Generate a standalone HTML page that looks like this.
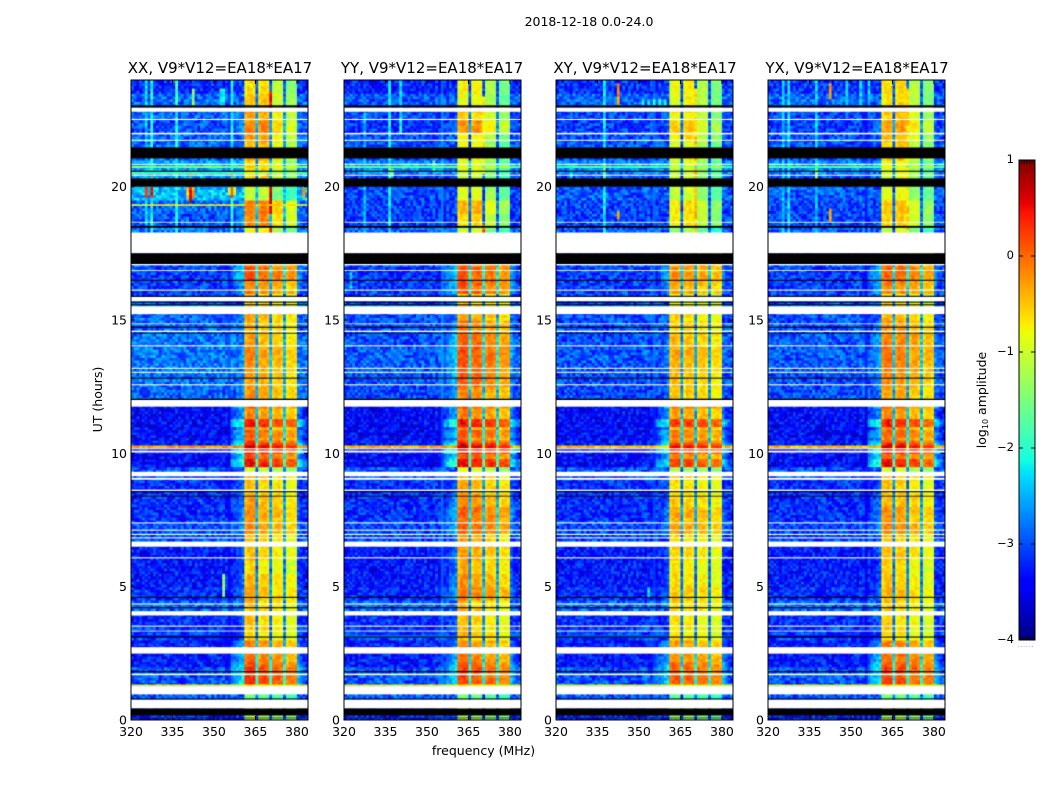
<!DOCTYPE html>
<html lang="en">
<head>
<meta charset="utf-8">
<title>2018-12-18 0.0-24.0 dynamic spectra</title>
<style>
html,body{margin:0;padding:0;background:#fff;}
#figure{position:relative;width:1050px;height:800px;overflow:hidden;background:#fff;font-family:"DejaVu Sans","Liberation Sans",sans-serif;}
canvas{position:absolute;display:block;}
svg{position:absolute;left:0;top:0;}
text{font-family:"DejaVu Sans","Liberation Sans",sans-serif;fill:#000;}
</style>
</head>
<body>
<div id="figure">
<canvas id="heat0" width="177" height="640" style="left:131px;top:80px"></canvas>
<canvas id="heat1" width="177" height="640" style="left:344px;top:80px"></canvas>
<canvas id="heat2" width="177" height="640" style="left:556px;top:80px"></canvas>
<canvas id="heat3" width="177" height="640" style="left:768px;top:80px"></canvas>
<canvas id="cbar" width="16" height="480" style="left:1019px;top:160px"></canvas>
<svg id="overlay" width="1050" height="800" viewBox="0 0 1050 800">
  <text x="589" y="26" font-size="12.5" text-anchor="middle">2018-12-18 0.0-24.0</text>
  <text x="220" y="73" font-size="15" text-anchor="middle">XX, V9*V12=EA18*EA17</text>
  <text x="432" y="73" font-size="15" text-anchor="middle">YY, V9*V12=EA18*EA17</text>
  <text x="645" y="73" font-size="15" text-anchor="middle">XY, V9*V12=EA18*EA17</text>
  <text x="857" y="73" font-size="15" text-anchor="middle">YX, V9*V12=EA18*EA17</text>
  <text x="483.5" y="755" font-size="12.5" text-anchor="middle">frequency (MHz)</text>
  <text transform="translate(102,399.5) rotate(-90)" font-size="12.5" text-anchor="middle">UT (hours)</text>
  <text transform="translate(986,400) rotate(-90)" font-size="12.5" text-anchor="middle">log<tspan font-size="8" dy="2">10</tspan><tspan dy="-2"> amplitude</tspan></text>
  <text x="1026" y="647" font-size="6" text-anchor="middle" letter-spacing="1" style="fill:#666">......</text>
</svg>
</div>
<script>
// ---------- axis tick labels ----------
const freqTicks = [320, 335, 350, 365, 380];
const hourTicks = [0, 5, 10, 15, 20];
const colorTicks = [1, 0, -1, -2, -3, -4];

// ---------- in-band level (log10 amplitude) per half-hour bin, 0 to 24 UT ----------
const bandLevelXX = [-1.2,-1.6,0.2,0.2,0.0,-0.2,-0.65,-0.6,-0.55,-0.4,-0.5,-0.7,-0.55,-0.4,-0.25,-0.3,-0.4,-0.55,-0.5,0.3,0.35,0.0,0.1,-0.05,-0.3,-0.35,-0.3,-0.25,-0.4,-0.45,-0.4,-0.7,-0.15,0.05,-0.1,-0.1,-0.5,-0.25,-0.2,-1.2,-0.7,-0.7,-0.4,-0.4,-0.25,-0.25,-0.6,-0.75];
const bandLevelYY = [-1.3,-1.6,0.1,0.1,-0.05,-0.3,-0.6,-0.6,-0.55,-0.2,-0.35,-0.5,-0.4,-0.3,-0.05,-0.05,-0.3,-0.45,-0.45,0.3,0.35,0.0,0.1,0.0,-0.25,-0.05,0.0,0.05,-0.05,-0.2,-0.4,-0.7,0.05,0.0,-0.1,-0.1,-0.8,-0.8,-0.55,-1.0,-1.2,-1.1,-0.9,-0.9,-0.4,-0.5,-1.0,-0.9];
const bandLevelXY = [-1.4,-1.7,0.05,0.05,-0.1,-0.3,-0.7,-0.7,-0.6,-0.5,-0.65,-0.7,-0.6,-0.5,-0.3,-0.35,-0.55,-0.65,-0.6,0.1,0.2,-0.1,0.0,-0.1,-0.5,-0.5,-0.4,-0.35,-0.45,-0.55,-0.6,-0.9,-0.3,-0.2,-0.3,-0.3,-1.0,-0.8,-0.75,-1.1,-1.1,-1.1,-0.8,-0.8,-0.6,-0.65,-0.9,-0.85];
const bandLevelYX = [-1.3,-1.6,0.15,0.15,0.0,-0.2,-0.7,-0.65,-0.6,-0.5,-0.6,-0.65,-0.55,-0.45,-0.25,-0.3,-0.5,-0.6,-0.5,0.25,0.3,-0.05,0.05,-0.05,-0.4,-0.3,-0.2,-0.15,-0.2,-0.35,-0.5,-0.8,-0.15,-0.05,-0.2,-0.2,-0.8,-0.7,-0.65,-1.0,-1.0,-1.0,-0.6,-0.6,-0.4,-0.45,-0.8,-0.75];

// ---------- out-of-band background level per half-hour bin ----------
const offLevelXX = [-3.2,-2.95,-3.0,-3.0,-3.3,-3.3,-3.1,-3.2,-2.9,-3.2,-3.3,-3.3,-3.3,-3.0,-3.0,-3.2,-3.2,-3.2,-3.0,-3.4,-3.3,-3.4,-3.4,-3.4,-2.9,-2.85,-2.8,-2.8,-2.8,-2.9,-2.9,-3.0,-3.1,-3.1,-3.0,-3.0,-2.8,-3.0,-2.9,-2.45,-2.6,-2.6,-2.9,-2.9,-3.0,-2.9,-2.9,-3.2];
const offLevelYY = [-3.2,-2.95,-3.0,-3.0,-3.3,-3.3,-3.1,-3.2,-2.9,-3.2,-3.3,-3.3,-3.3,-3.05,-3.05,-3.2,-3.2,-3.2,-3.0,-3.4,-3.3,-3.4,-3.4,-3.4,-3.05,-3.0,-2.95,-2.95,-3.0,-3.0,-3.0,-3.05,-3.1,-3.15,-3.0,-3.0,-2.9,-3.1,-3.1,-3.05,-3.1,-2.7,-3.0,-3.0,-3.15,-3.05,-2.95,-3.25];
const offLevelXY = [-3.2,-2.95,-3.0,-3.0,-3.3,-3.3,-3.1,-3.2,-2.9,-3.2,-3.3,-3.3,-3.3,-3.05,-3.05,-3.2,-3.2,-3.2,-3.0,-3.4,-3.3,-3.4,-3.4,-3.4,-3.05,-3.0,-3.0,-2.95,-3.0,-3.0,-3.0,-3.05,-3.1,-3.1,-3.0,-3.0,-2.95,-3.05,-3.05,-2.95,-3.0,-2.75,-3.0,-3.0,-3.1,-3.05,-2.9,-3.15];
const offLevelYX = [-3.2,-2.95,-3.0,-3.0,-3.3,-3.3,-3.1,-3.2,-2.9,-3.2,-3.3,-3.3,-3.3,-3.05,-3.05,-3.2,-3.2,-3.2,-3.0,-3.4,-3.3,-3.4,-3.4,-3.4,-3.0,-3.0,-2.95,-2.95,-2.95,-3.0,-3.0,-3.05,-3.1,-3.1,-3.0,-3.0,-2.95,-3.05,-3.05,-2.95,-3.0,-2.75,-3.0,-3.0,-3.1,-3.05,-2.9,-3.15];

// ---------- relative level of each 1 MHz channel versus in-band level ----------
const channelShape = [-9,-9,-9,-9,-9,-9,-9,-9,-9,-9,-9,-9,-9,-9,-9,-9,-9,-9,-9,-9,-9,-9,-9,-9,-9,-9,-9,-9,-9,-9,-9,-9,-9,-9,-9,-9,
  -2.9,-2.75,-2.6,-2.48,-2.35,-0.08,0.04,0.06,-0.02,-2.2,-0.06,0.05,0.07,-0.03,-2.2,-0.06,0.04,0.06,-0.04,-2.2,-0.06,0.04,0.06,-0.03,-2.55,-2.8,-3.1,-3.3];

// ---------- gain of the four receiver sub-bands, per product ----------
const subbandGainXX = [0.08, -0.08, -0.18, -0.32];
const subbandGainYY = [0.12, -0.02, -0.12, -0.28];
const subbandGainXY = [0.0, -0.06, -0.14, -0.26];
const subbandGainYX = [0.08, 0.0, -0.15, -0.3];
// extra sub-band tilt seen after 18 UT
const lateSubbandTilt = [0.0, 0.15, -0.2, -0.4];

// ---------- common time structure: start UT, end UT, change in in-band level ----------
const bandSwells = [[11.55,11.75,-0.25],[11.35,11.55,-0.35],[11.05,11.35,0.25],[10.9,11.05,-0.3],[10.45,10.65,-0.2],[10.3,10.45,0.05],[9.85,10.03,-0.3],[9.5,9.85,0.1],[9.31,9.5,-0.6],[2.25,2.49,-0.1],[2.05,2.15,0.1],[6.69,7.0,-0.15],[7.41,7.6,-0.1],[16.14,16.3,-0.15],[18.28,18.46,-0.4],[22.54,22.8,-0.2],[21.47,21.72,-0.15]];

// ---------- flagged time ranges (start UT, end UT) ----------
const whiteHours = [[22.81,22.97],[22.50,22.54],[21.96,22.02],[21.72,21.76],[20.82,20.86],[20.41,20.45],[18.65,18.68],[17.50,18.28],[17.05,17.10],[16.84,16.87],[16.10,16.14],[15.70,15.87],[15.22,15.51],[14.84,14.87],[14.55,14.60],[14.01,14.05],[13.17,13.21],[13.02,13.06],[12.55,12.59],[11.75,12.00],[10.15,10.19],[10.03,10.10],[9.14,9.31],[9.01,9.08],[8.59,8.64],[7.37,7.41],[7.10,7.14],[6.94,6.98],[6.81,6.85],[6.50,6.69],[6.06,6.10],[4.33,4.37],[3.92,4.08],[3.50,3.54],[3.32,3.35],[2.49,2.73],[1.68,1.74],[0.96,1.27],[0.43,0.77]];
const blackHours = [[22.97,23.05],[21.06,21.47],[20.56,20.60],[20.00,20.31],[18.46,18.53],[17.10,17.50],[16.47,16.51],[15.87,15.91],[15.65,15.69],[15.55,15.59],[14.71,14.75],[14.49,14.52],[12.80,12.84],[12.00,12.05],[8.54,8.58],[8.38,8.41],[4.58,4.62],[4.19,4.23],[3.09,3.13],[1.79,1.83],[0.77,0.81],[0.17,0.43],[0.06,0.09]];

// ---------- narrow time strips: start UT, end UT, off-band level, in-band level ----------
const stripsXX = [[10.19,10.29,-0.3,0.65],[1.27,1.33,-0.8,-0.8],[15.50,15.54,-2.0,-0.3],[20.7,20.78,-1.6,-0.6],[20.46,20.56,-1.9,-1.0],[19.28,19.34,-0.8,-0.3]];
const stripsYY = [[10.19,10.29,-0.4,0.65],[1.27,1.33,-0.8,-0.8],[15.50,15.54,-2.2,-0.3],[20.7,20.78,-1.8,-0.9]];
const stripsXY = [[10.19,10.29,-0.5,0.55],[1.27,1.33,-0.9,-0.9],[15.50,15.54,-2.4,-0.4],[20.7,20.78,-1.9,-1.0]];
const stripsYX = [[10.19,10.29,-0.5,0.6],[1.27,1.33,-0.9,-0.8],[15.50,15.54,-2.4,-0.35],[20.7,20.78,-1.9,-0.9]];

// ---------- narrowband interference: channel, start UT, end UT, level ----------
const rfiXX = [[5,23.0,24,-2.3],[7,23.0,24,-2.1],[16,23.0,24,-1.9],[22,23.0,23.7,-1.4],[32,23.0,23.7,-2.2],[33,23.0,23.7,-2.2],[36,23.0,24,-2.2],[5,18.2,22.8,-2.4],[7,18.2,22.8,-2.1],[16,18.2,22.8,-2.1],[36,18.2,22.8,-2.1],[5,19.6,20,0.2],[7,19.6,20,0.5],[20,19.6,20,-0.6],[21,19.4,20,0.6],[22,19.6,20,-0.3],[36,19.6,20,0.2],[35,19.7,20,-1.0],[37,19.7,20,-1.0],[50,19.0,20,0.6],[62,19.6,20,-0.2],[50,22.9,23.6,0.5],[50,18.2,18.5,0.3],[21,20.45,20.6,0.3],[7,20.45,20.6,0.2],[36,20.45,20.6,0.2],[49,20.45,20.6,0.3],[33,4.6,5.5,-1.4]];
const rfiYY = [[16,18.2,24,-2.2],[20,22,24,-2.2],[7,18.2,22.8,-2.5],[17,20.4,20.7,-1.5],[16,20.4,20.7,-1.7],[50,18.2,18.6,0.2],[50,20.5,23.4,-0.8],[21,20.75,20.85,-0.7],[32,20.6,21.0,-1.8],[2,16.2,16.8,-2.4]];
const rfiXY = [[17,18.2,24,-2.2],[22,23.0,23.9,-0.2],[22,18.8,19.1,-0.3],[31,23.0,23.3,-2.2],[33,23.0,23.3,-2.2],[35,23.0,23.3,-2.1],[37,23.0,23.3,-2.1],[39,23.0,23.3,-2.1],[5,20.2,20.9,-2.2],[17,20.3,20.9,-1.4],[50,18.2,23.7,-0.5],[33,4.6,5.0,-2.2]];
const rfiYX = [[5,18.2,24,-2.4],[7,18.2,24,-2.3],[17,18.2,24,-2.4],[22,23.3,23.9,-0.3],[22,18.7,19.2,-0.3],[17,20.3,20.9,-1.4],[28,23.0,24,-2.4],[33,23.0,24,-2.4],[36,23.0,24,-2.4],[50,18.2,23.7,-0.6]];

// ---------- measurement scatter table (dimensionless, hand-read speckle) ----------
const speckle = [0.4,-0.7,0.1,0.9,-0.3,-0.9,0.6,0.2,-0.5,0.8,-0.1,-0.6,0.3,1.0,-0.8,0.0,0.5,-0.4,0.7,-1.0,0.2,-0.2,0.9,-0.6,0.1,0.6,-0.9,0.3,-0.3,0.8,-0.7,0.4,0.0,-0.5,1.0,-0.1,-0.8,0.5,0.2,-0.4,0.7,-0.2,-1.0,0.9,0.1,-0.6,0.3,0.6,-0.3,-0.7,0.8,0.0,-0.9,0.4,0.2,-0.5,0.7,-0.1,0.5,-0.8,0.1];

// ---------- colour scale limits ----------
const colorMin = -4;
const colorMax = 1;

// ---------- grid shape ----------
const channelCount = 64;
const rowCount = 240;
const hourMax = 24;
const freqMin = 320;
const freqMax = 384;

const panelLefts = [131, 344, 556, 768];
const panelNames = ['xx', 'yy', 'xy', 'yx'];
const plotTop = 80, plotW = 177, plotH = 640;

function xScale(freq) { return (freq - freqMin) / (freqMax - freqMin) * plotW; }
function yScale(hour) { return plotH - hour / hourMax * plotH; }

function interp(stops, t) {
  for (let i = 1; i < stops.length; i++) {
    if (t <= stops[i][0]) {
      const a = stops[i - 1], b = stops[i];
      return a[1] + (b[1] - a[1]) * (t - a[0]) / (b[0] - a[0]);
    }
  }
  return stops[stops.length - 1][1];
}
const jetR = [[0,0],[0.35,0],[0.66,1],[0.89,1],[1,0.5]];
const jetG = [[0,0],[0.125,0],[0.375,1],[0.64,1],[0.91,0],[1,0]];
const jetB = [[0,0.5],[0.11,1],[0.34,1],[0.65,0],[1,0]];
function colorOf(v) {
  const t = Math.max(0, Math.min(1, (v - colorMin) / (colorMax - colorMin)));
  return 'rgb(' + Math.round(255 * interp(jetR, t)) + ',' + Math.round(255 * interp(jetG, t)) + ',' + Math.round(255 * interp(jetB, t)) + ')';
}
function subbandOf(c) { return c < 46 ? 0 : c < 51 ? 1 : c < 56 ? 2 : 3; }
function swellAt(hour) {
  for (const s of bandSwells) {
    if (hour >= s[0] && hour < s[1]) return s[2];
  }
  return 0;
}

function drawPanel(ctx, band, off, gain, strips, rfi, p) {
  const cw = xScale(freqMin + 1) - xScale(freqMin);
  const rowH = plotH / rowCount;
  for (let r = 0; r < rowCount; r++) {
    const hour = (r + 0.5) * hourMax / rowCount;
    const bin = Math.min(band.length - 1, Math.floor(hour * band.length / hourMax));
    const swell = swellAt(hour);
    for (let c = 0; c < channelCount; c++) {
      const grain = speckle[(r * 17 + c * 29 + r * c * 3 + p * 11) % speckle.length];
      const inBand = channelShape[c] > -1;
      let g = 0;
      if (inBand) {
        g = gain[subbandOf(c)] + (hour >= 18 ? lateSubbandTilt[subbandOf(c)] : 0);
      }
      const bandV = band[bin] + swell + channelShape[c] + g;
      let v = Math.max(off[bin] + grain * 0.4, bandV + grain * (inBand ? 0.18 : 0.25));
      for (const line of rfi) {
        if (line[0] === c && hour >= line[1] && hour < line[2]) {
          v = Math.max(v, line[3] + grain * 0.25);
        }
      }
      ctx.fillStyle = colorOf(v);
      const x0 = xScale(freqMin + c);
      const y0 = yScale(hourMax * (r + 1) / rowCount);
      ctx.fillRect(x0, y0, cw + 0.5, rowH + 0.5);
    }
  }
  // thin time strips drawn at their own UT range
  for (const s of strips) {
    const y0 = yScale(s[1]), h = yScale(s[0]) - y0;
    for (let c = 0; c < channelCount; c++) {
      const grain = speckle[(c * 13 + Math.round(s[0] * 10) + p) % speckle.length];
      const inBand = channelShape[c] > -1;
      const v = inBand ? s[3] + channelShape[c] + gain[subbandOf(c)] : Math.max(s[2], s[3] + channelShape[c]) + grain * 0.25;
      ctx.fillStyle = colorOf(v);
      ctx.fillRect(xScale(freqMin + c), y0, cw + 0.5, h);
    }
  }
  // flagged ranges
  ctx.fillStyle = '#ffffff';
  for (const f of whiteHours) ctx.fillRect(0, yScale(f[1]), plotW, yScale(f[0]) - yScale(f[1]));
  ctx.fillStyle = '#000000';
  for (const f of blackHours) ctx.fillRect(0, yScale(f[1]), plotW, yScale(f[0]) - yScale(f[1]));
}

const bandSets = [bandLevelXX, bandLevelYY, bandLevelXY, bandLevelYX];
const offSets = [offLevelXX, offLevelYY, offLevelXY, offLevelYX];
const gainSets = [subbandGainXX, subbandGainYY, subbandGainXY, subbandGainYX];
const stripSets = [stripsXX, stripsYY, stripsXY, stripsYX];
const rfiSets = [rfiXX, rfiYY, rfiXY, rfiYX];
for (let p = 0; p < 4; p++) {
  const ctx = document.getElementById('heat' + p).getContext('2d');
  drawPanel(ctx, bandSets[p], offSets[p], gainSets[p], stripSets[p], rfiSets[p], p);
}

// colour bar
(function () {
  const ctx = document.getElementById('cbar').getContext('2d');
  for (let y = 0; y < 480; y++) {
    ctx.fillStyle = colorOf(colorMax - (y + 0.5) / 480 * (colorMax - colorMin));
    ctx.fillRect(0, y, 16, 1);
  }
})();

// axes
const NS = 'http://www.w3.org/2000/svg';
const svg = document.getElementById('overlay');
function line(x1, y1, x2, y2, w) {
  const el = document.createElementNS(NS, 'line');
  el.setAttribute('x1', x1);
  el.setAttribute('y1', y1);
  el.setAttribute('x2', x2);
  el.setAttribute('y2', y2);
  el.setAttribute('stroke', '#000');
  el.setAttribute('stroke-width', w || 1);
  svg.appendChild(el);
  return el;
}
function label(x, y, str, anchor) {
  const el = document.createElementNS(NS, 'text');
  el.setAttribute('x', x);
  el.setAttribute('y', y);
  el.setAttribute('font-size', '12.5');
  el.setAttribute('text-anchor', anchor);
  el.textContent = str;
  svg.appendChild(el);
  return el;
}
panelLefts.forEach(function (left, p) {
  const name = panelNames[p];
  const frame = document.createElementNS(NS, 'rect');
  frame.setAttribute('x', left);
  frame.setAttribute('y', plotTop);
  frame.setAttribute('width', plotW);
  frame.setAttribute('height', plotH);
  frame.setAttribute('fill', 'none');
  frame.setAttribute('stroke', '#000');
  frame.setAttribute('stroke-width', '1');
  
  
  svg.appendChild(frame);
  freqTicks.forEach(function (f) {
    const x = left + xScale(f);
    const tb = line(x, plotTop + plotH, x, plotTop + plotH - 4);
    
    
    const tt = line(x, plotTop, x, plotTop + 4);
    
    
    const t = label(x, plotTop + plotH + 16, String(f), 'middle');
    
    
  });
  hourTicks.forEach(function (h) {
    const y = plotTop + yScale(h);
    const tl = line(left, y, left + 4, y);
    
    
    const tr = line(left + plotW, y, left + plotW - 4, y);
    
    
    const t = label(left - 4, y + 4.5, String(h), 'end');
    
    
  });
});

// colour bar frame, ticks and labels
const barX = 1019, barY = 160, barW = 16, barH = 480;
const barFrame = document.createElementNS(NS, 'rect');
barFrame.setAttribute('x', barX);
barFrame.setAttribute('y', barY);
barFrame.setAttribute('width', barW);
barFrame.setAttribute('height', barH);
barFrame.setAttribute('fill', 'none');
barFrame.setAttribute('stroke', '#000');
barFrame.setAttribute('stroke-width', '1');


svg.appendChild(barFrame);
colorTicks.forEach(function (v) {
  const y = barY + (colorMax - v) / (colorMax - colorMin) * barH;
  const a = line(barX, y, barX + 4, y);
  
  
  const b = line(barX + barW, y, barX + barW - 4, y);
  
  
  const t = label(barX - 5, y + 3, String(v).replace('-', '\u2212'), 'end');
  t.setAttribute('font-size', '11.5');
  
  
});
for (let i = 1; i < 6; i++) {
  const x = barX + i * barW / 6;
  const a = line(x, barY, x, barY + 4);
  
  
  const b = line(x, barY + barH, x, barY + barH - 4);
  
  
}
</script>
</body>
</html>
